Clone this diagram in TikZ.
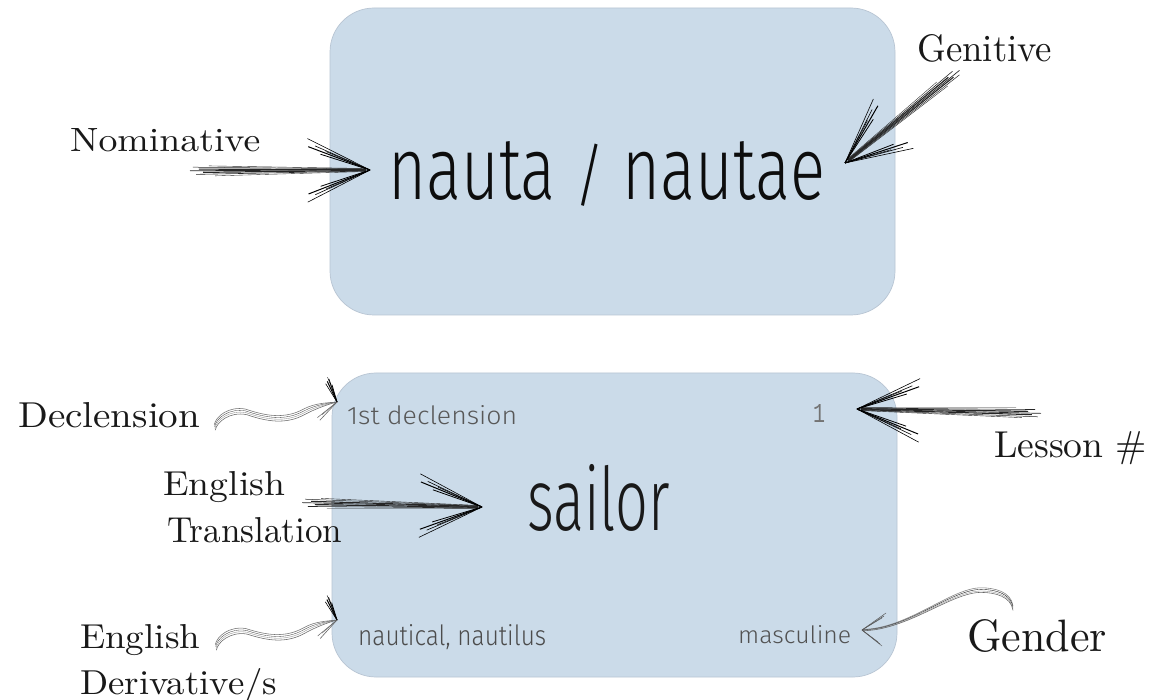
\documentclass[tikz,border=0pt]{standalone}
\usepackage{fontspec}
\usepackage{graphicx}
\usetikzlibrary{calc}
\newfontfamily\hand{Fira Sans Light}
\newfontfamily\monofnt{Liberation Mono}
\definecolor{cardfill}{RGB}{203,219,233}
\definecolor{cardline}{RGB}{184,197,211}
\definecolor{inkgray}{RGB}{88,88,88}

\newcommand\frameAB[2]{%
  \path let \p1=($(#2)-(#1)$) in \pgfextra{%
    \pgfmathparse{atan2(\y1,\x1)}\xdef\skang{\pgfmathresult}%
    \pgfmathparse{veclen(\x1,\y1)}\xdef\sklen{\pgfmathresult}};}

\newcommand\hatcharrow[2]{%
  \frameAB{#1}{#2}%
  \begin{scope}[shift={(#1)},rotate=\skang]
    \foreach \s/\o/\w in {0/3.8/0.5,6/1.8/1.1,-3/0.3/0.7,10/-1.4/1.2,3/-3.4/0.6,16/5.0/0.4,22/-5.0/0.35}
      \draw[line width=\w pt,black!85] (\s,\o) -- (\sklen-4,\o*0.3);
    \foreach \a/\h/\w in {21/66/1.0,24/60/0.6,27/70/0.6,18/52/0.8,23/48/0.5}{
      \draw[line width=\w pt] (\sklen,0) -- ++(180-\a:\h);
      \draw[line width=\w pt] (\sklen,0) -- ++(180+\a:\h);}
  \end{scope}}

\newcommand\wavearrow[2]{%
  \frameAB{#1}{#2}%
  \begin{scope}[shift={(#1)},rotate=\skang]
    \foreach \o/\w/\c in {2.8/0.55/black!55,0.9/0.3/black!80,-0.9/0.35/black!45,-2.8/0.55/black!60}
      \draw[line width=\w pt,\c] (-3,-4+\o) .. controls (0,4+\o) and (0.12*\sklen,12+\o) .. (0.25*\sklen,6+\o)
        .. controls (0.4*\sklen,-4+\o) and (0.55*\sklen,-11+\o) .. (0.72*\sklen,-4+\o)
        .. controls (0.82*\sklen,0+\o) and (0.92*\sklen,0.3*\o) .. (\sklen,0);
    \foreach \dx/\dy/\w in {-6/22/1.0,-4/24/0.7,-8/20/0.6,-2/18/0.8,-5/26/0.4}
      \draw[line width=\w pt] (\sklen,0) -- ++(\dx,\dy);
    \foreach \dx/\dy/\w in {-22/-12/0.5,-20/-15/0.6,-17/-10/0.4}
      \draw[line width=\w pt,black!60] (\sklen,0) -- ++(\dx,\dy);
  \end{scope}}

\tikzset{
  lbl/.style={inner sep=0pt,anchor=base west,text=black!90},
  hw/.style={inner sep=0pt,anchor=base west},
  card/.style={fill=cardfill,draw=cardline,line width=0.7pt,rounded corners=44pt}
}

\begin{document}
\begin{tikzpicture}[x=1pt,y=1pt]
  \fill[white] (0,0) rectangle (1160,-700);
  \useasboundingbox (0,0) rectangle (1160,-700);

  % cards
  \path[card] (330,-8) rectangle (895,-315);
  \path[card] (332,-373) rectangle (897,-677);

  % top card content
  \node[hw,text=black!95] (nauta) at (388,-200) {\resizebox{437pt}{58pt}{\hand nauta \scalebox{0.9}[0.78]{/} nautae}};
  \node[lbl] (nom) at (70,-152) {\resizebox{190pt}{23pt}{Nominative}};
  \node[lbl] (gen) at (917,-62) {\resizebox{135pt}{27pt}{Genitive}};

  % bottom card content
  \node[hw,text=inkgray] (dectxt) at (347,-425) {\resizebox{170pt}{19pt}{\hand 1st declension}};
  \node[hw,text=black!55] (num) at (813,-423) {\resizebox{12pt}{18pt}{\monofnt 1}};
  \node[hw,text=black!90] (sailor) at (527,-530) {\resizebox{143pt}{66pt}{\hand sailor}};
  \node[hw,text=black!70] (dertxt) at (358,-645) {\resizebox{188pt}{21pt}{\hand nautical, nautilus}};
  \node[hw,text=black!68] (masc) at (738,-643) {\resizebox{113pt}{18pt}{\hand masculine}};

  % labels
  \node[lbl] (decl) at (18,-428) {\resizebox{182pt}{25pt}{Declension}};
  \node[lbl] (eng1) at (163,-495) {\resizebox{122pt}{24pt}{English}};
  \node[lbl] (trans) at (167,-542) {\resizebox{175pt}{25pt}{Translation}};
  \node[lbl] (lesson) at (994,-458) {\resizebox{153pt}{26pt}{Lesson \#}};
  \node[lbl] (eng2) at (80,-648) {\resizebox{120pt}{24pt}{English}};
  \node[lbl] (deriv) at (80,-694) {\resizebox{197pt}{26pt}{Derivative/s}};
  \node[lbl] (gender) at (967,-651) {\resizebox{140pt}{32pt}{Gender}};

  % connector end points
  \coordinate (nomT) at (193,-171);
  \coordinate (nomTip) at (370,-170);
  \coordinate (genT) at (957,-72);
  \coordinate (genTip) at (845,-163);
  \coordinate (trT) at (305,-503);
  \coordinate (trTip) at (482,-507);
  \coordinate (lsT) at (1038,-413);
  \coordinate (lsTip) at (857,-409);
  \coordinate (dcT) at (217,-423);
  \coordinate (dcTip) at (337,-402);
  \coordinate (dvT) at (218,-643);
  \coordinate (dvTip) at (337,-620);
  \coordinate (gdT) at (1013,-608);
  \coordinate (gdM) at (981,-590);
  \coordinate (gdTip) at (862,-630);

  % hatched arrows
  \hatcharrow{nomT}{nomTip}
  \hatcharrow{genT}{genTip}
  \hatcharrow{trT}{trTip}
  \hatcharrow{lsT}{lsTip}

  % wavy arrows
  \wavearrow{dcT}{dcTip}
  \wavearrow{dvT}{dvTip}

  % gender arrow
  \foreach \o/\w/\c in {2.2/0.55/black!50,0.6/0.4/black!85,-1.0/0.35/black!45,-2.4/0.55/black!60}
    \draw[line width=\w pt,\c] ([yshift=\o pt]gdT) .. controls +(-2,14) and +(14,0) .. ([yshift=\o pt]gdM)
      .. controls +(-30,0) and +(45,0) .. ([yshift=0.3*\o pt]gdTip);
  \foreach \dx/\dy/\w in {22/14/0.6,20/12/0.4,24/17/0.5,18/-14/0.6,20/-16/0.4,16/-12/0.5}
    \draw[line width=\w pt,black!65] (gdTip) -- ++(\dx,\dy);
\end{tikzpicture}
\end{document}
